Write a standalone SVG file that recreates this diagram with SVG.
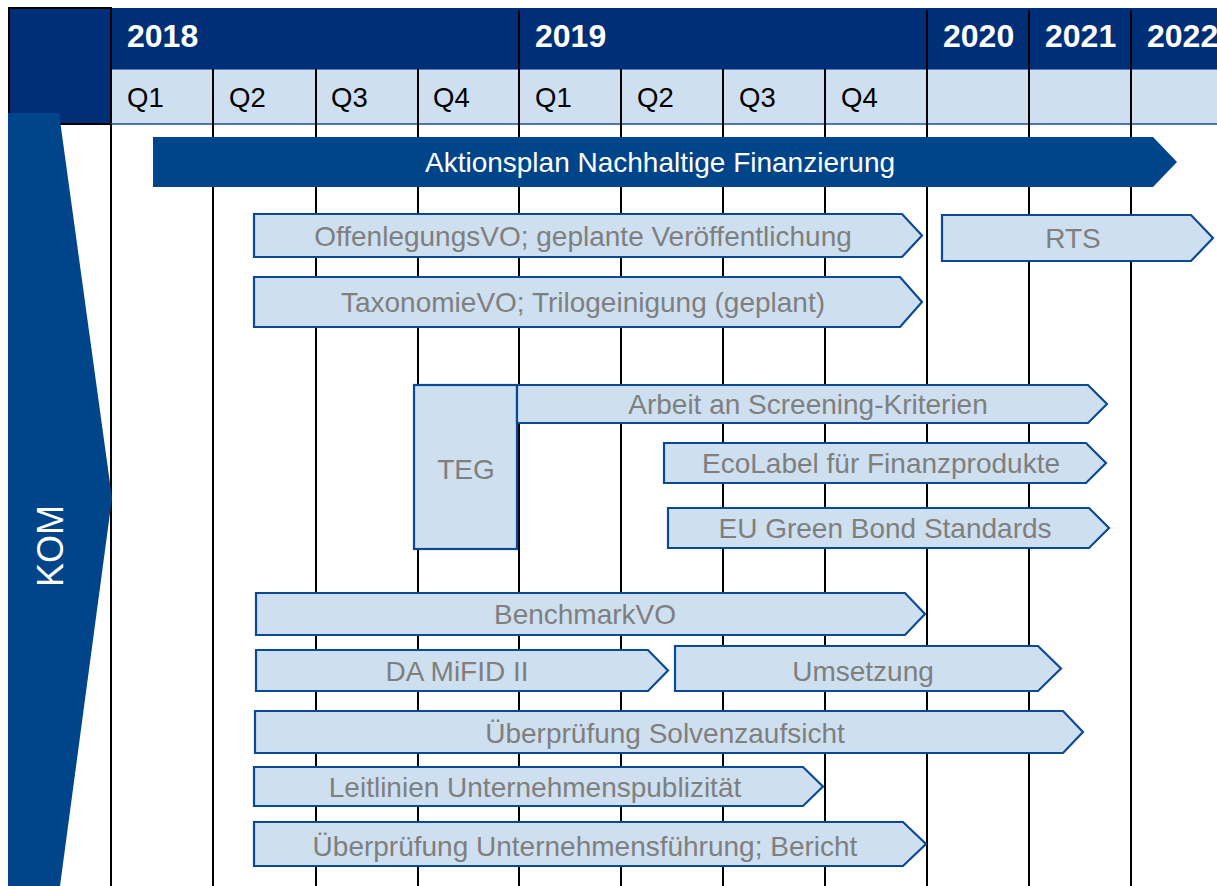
<svg xmlns="http://www.w3.org/2000/svg" width="1217" height="886" viewBox="0 0 1217 886">
<style>
.vl{stroke:#000;stroke-width:2}
.bar{fill:#CEDFF0;stroke:#0A4A94;stroke-width:2.2;stroke-linejoin:miter}
.bt{font-family:"Liberation Sans",Arial,sans-serif;font-size:28px;fill:#7F7F7F;text-anchor:middle}
.yr{font-family:"Liberation Sans",Arial,sans-serif;font-size:32px;font-weight:bold;fill:#fff}
.q{font-family:"Liberation Sans",Arial,sans-serif;font-size:27.5px;fill:#000}
</style>
<rect width="1217" height="886" fill="#fff"/>
<g id="header">
<rect x="9" y="8" width="1208" height="61" fill="#002F78"/>
<rect x="111" y="69" width="1106" height="55" fill="#CEDFF0"/>
<line x1="111" y1="69.5" x2="1217" y2="69.5" stroke="#5A7FB5" stroke-width="1"/>
<rect x="9" y="8" width="102" height="116" fill="#002F78" stroke="#000" stroke-width="2"/>
<line x1="111" y1="124" x2="1217" y2="124" stroke="#1B4F96" stroke-width="1.5"/>
<g class="vl">
<line x1="519" y1="10" x2="519" y2="124"/>
<line x1="927" y1="10" x2="927" y2="124"/>
<line x1="1029" y1="10" x2="1029" y2="124"/>
<line x1="1131" y1="10" x2="1131" y2="124"/>
<line x1="213" y1="69" x2="213" y2="124"/>
<line x1="316" y1="69" x2="316" y2="124"/>
<line x1="418" y1="69" x2="418" y2="124"/>
<line x1="621" y1="69" x2="621" y2="124"/>
<line x1="723" y1="69" x2="723" y2="124"/>
<line x1="825" y1="69" x2="825" y2="124"/>
</g>
<text class="yr" x="127" y="47">2018</text>
<text class="yr" x="535" y="47">2019</text>
<text class="yr" x="943" y="47">2020</text>
<text class="yr" x="1045" y="47">2021</text>
<text class="yr" x="1147" y="47">2022</text>
<text class="q" x="127" y="107">Q1</text>
<text class="q" x="229" y="107">Q2</text>
<text class="q" x="331" y="107">Q3</text>
<text class="q" x="433" y="107">Q4</text>
<text class="q" x="535" y="107">Q1</text>
<text class="q" x="637" y="107">Q2</text>
<text class="q" x="739" y="107">Q3</text>
<text class="q" x="841" y="107">Q4</text>
</g>
<g id="grid" class="vl">
<line x1="111" y1="124" x2="111" y2="886"/>
<line x1="213" y1="124" x2="213" y2="886"/>
<line x1="316" y1="124" x2="316" y2="886"/>
<line x1="418" y1="124" x2="418" y2="886"/>
<line x1="519" y1="124" x2="519" y2="886"/>
<line x1="621" y1="124" x2="621" y2="886"/>
<line x1="723" y1="124" x2="723" y2="886"/>
<line x1="825" y1="124" x2="825" y2="886"/>
<line x1="927" y1="124" x2="927" y2="886"/>
<line x1="1029" y1="124" x2="1029" y2="886"/>
<line x1="1131" y1="124" x2="1131" y2="886"/>
</g>
<g id="kom">
<polygon points="8,113 59,113 112,498 60,886 8,886" fill="#00448A"/>
<text x="0" y="0" transform="translate(63,546) rotate(-90)" font-family="'Liberation Sans',Arial,sans-serif" font-size="36" fill="#fff" text-anchor="middle">KOM</text>
</g>
<g id="aktionsplan">
<polygon points="153,137 1153,137 1177,162 1153,187 153,187" fill="#00448A"/>
<text x="660" y="172" font-family="'Liberation Sans',Arial,sans-serif" font-size="28" fill="#fff" text-anchor="middle">Aktionsplan Nachhaltige Finanzierung</text>
</g>
<g id="offenlegung">
<polygon class="bar" points="254,214 902,214 922,235.5 902,257 254,257"/>
<text class="bt" x="583" y="246">OffenlegungsVO; geplante Veröffentlichung</text>
</g>
<g id="rts">
<polygon class="bar" points="942,215 1191,215 1213,238 1191,261 942,261"/>
<text class="bt" x="1073" y="248">RTS</text>
</g>
<g id="taxonomie">
<polygon class="bar" points="254,277 900,277 922,302 900,327 254,327"/>
<text class="bt" x="583" y="312">TaxonomieVO; Trilogeinigung (geplant)</text>
</g>
<g id="teg">
<rect class="bar" x="414" y="385" width="103" height="164"/>
<text class="bt" x="466" y="479">TEG</text>
</g>
<g id="screening">
<polygon class="bar" points="517,385 1088,385 1107,404 1088,423 517,423"/>
<text class="bt" x="808" y="414">Arbeit an Screening-Kriterien</text>
</g>
<g id="ecolabel">
<polygon class="bar" points="664,443 1086,443 1106,463 1086,483 664,483"/>
<text class="bt" x="881" y="473">EcoLabel für Finanzprodukte</text>
</g>
<g id="greenbond">
<polygon class="bar" points="668,508 1089,508 1109,528 1089,548 668,548"/>
<text class="bt" x="885" y="538">EU Green Bond Standards</text>
</g>
<g id="benchmark">
<polygon class="bar" points="256,593 905,593 925,614 905,635 256,635"/>
<text class="bt" x="585" y="624">BenchmarkVO</text>
</g>
<g id="mifid">
<polygon class="bar" points="256,650 648,650 668,670.5 648,691 256,691"/>
<text class="bt" x="457" y="681">DA MiFID II</text>
</g>
<g id="umsetzung">
<polygon class="bar" points="675,646 1038,646 1061,668.5 1038,691 675,691"/>
<text class="bt" x="863" y="681">Umsetzung</text>
</g>
<g id="solvenz">
<polygon class="bar" points="255,711 1063,711 1083,732 1063,753 255,753"/>
<text class="bt" x="665" y="743">Überprüfung Solvenzaufsicht</text>
</g>
<g id="leitlinien">
<polygon class="bar" points="254,767 803,767 823,786.5 803,806 254,806"/>
<text class="bt" x="535" y="797">Leitlinien Unternehmenspublizität</text>
</g>
<g id="unternehmensfuehrung">
<polygon class="bar" points="254,822 903,822 926,844 903,866 254,866"/>
<text class="bt" x="585" y="856">Überprüfung Unternehmensführung; Bericht</text>
</g>
</svg>
